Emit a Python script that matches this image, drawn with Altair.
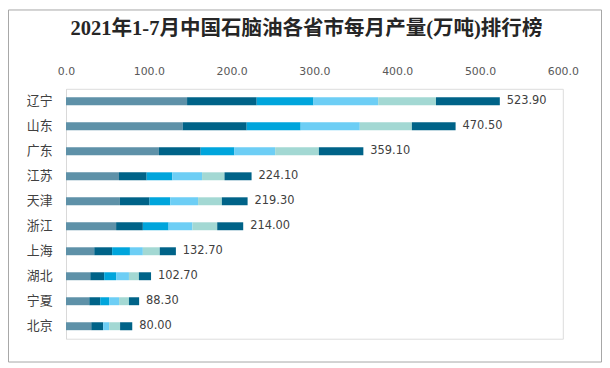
import altair as alt
import pandas as pd

provinces = ["辽宁", "山东", "广东", "江苏", "天津", "浙江", "上海", "湖北", "宁夏", "北京"]
months = ["1-2月", "3月", "4月", "5月", "6月", "7月"]
m12 = [146.2, 140.8, 112.2, 64.0, 65.1, 60.5, 34.1, 29.3, 28.1, 30.5]
m3 = [84.1, 77.4, 50.4, 33.4, 35.8, 32.3, 21.6, 16.8, 13.2, 14.4]
m4 = [68.6, 65.2, 40.8, 31.0, 25.1, 31.1, 21.5, 14.4, 10.8, 0.0]
m5 = [78.1, 71.4, 49.2, 35.9, 33.5, 28.8, 15.6, 15.5, 12.0, 7.2]
m6 = [69.8, 62.9, 52.8, 27.1, 28.7, 29.9, 20.4, 12.0, 11.9, 13.2]
m7 = [77.1, 52.8, 53.7, 32.7, 31.1, 31.4, 19.5, 14.7, 12.3, 14.7]
totals = [523.9, 470.5, 359.1, 224.1, 219.3, 214.0, 132.7, 102.7, 88.3, 80.0]
colors = ["#5e91a8", "#006388", "#00a5dc", "#6dcef5", "#a3d8d3", "#006388"]

series = [m12, m3, m4, m5, m6, m7]
rows = []
for mi, (m, vals) in enumerate(zip(months, series)):
    for p, v in zip(provinces, vals):
        rows.append({"省市": p, "月份": m, "序": mi, "产量": v})
df = pd.DataFrame(rows)
tot = pd.DataFrame({"省市": provinces, "合计": totals})

y_enc = alt.Y("省市:N", sort=provinces,
              axis=alt.Axis(title=None, ticks=False, domain=True, domainColor="#d9d9d9",
                            labelFont="Noto Sans CJK SC", labelFontSize=13,
                            labelColor="#404040", labelPadding=14))

bars = alt.Chart(df).mark_bar(size=8).encode(
    x=alt.X("产量:Q", stack="zero",
            scale=alt.Scale(domain=[0, 600], nice=False),
            axis=alt.Axis(orient="top", title=None, values=[0, 100, 200, 300, 400, 500, 600],
                          format=".1f", grid=False, ticks=False, domain=False, labelFlush=False,
                          labelFont="DejaVu Sans", labelFontSize=11, labelColor="#595959",
                          labelPadding=12)),
    y=y_enc,
    color=alt.Color("月份:N", sort=months, scale=alt.Scale(domain=months, range=colors), legend=None),
    order=alt.Order("序:Q", sort="ascending"),
)

labels = alt.Chart(tot).mark_text(align="left", baseline="middle", dx=7,
                                  font="DejaVu Sans", fontSize=11.5, color="#404040").encode(
    x=alt.X("合计:Q"),
    y=alt.Y("省市:N", sort=provinces),
    text=alt.Text("合计:Q", format=".2f"),
)

border = alt.Chart(pd.DataFrame({"a": [0]})).mark_rect(fill=None, stroke="#a6a6a6", strokeWidth=1).encode(
    x=alt.value(-58), x2=alt.value(540), y=alt.value(-79.5), y2=alt.value(275.5)
)

chart = alt.layer(bars, labels, border).properties(
    width=501, height=252,
    autosize=alt.AutoSizeParams(type="none"),
    padding={"left": 58.5, "top": 80, "right": 39.5, "bottom": 24},
    title=alt.TitleParams("2021年1-7月中国石脑油各省市每月产量(万吨)排行榜",
                          font="Liberation Serif, Noto Sans CJK SC", fontSize=20.7,
                          fontWeight="bold", color="#262626", anchor="middle",
                          dx=-8, offset=0, dy=30),
).configure_view(stroke=None).configure(background="white")

chart.save("out.html", embed_options={"renderer": "svg", "actions": False})
